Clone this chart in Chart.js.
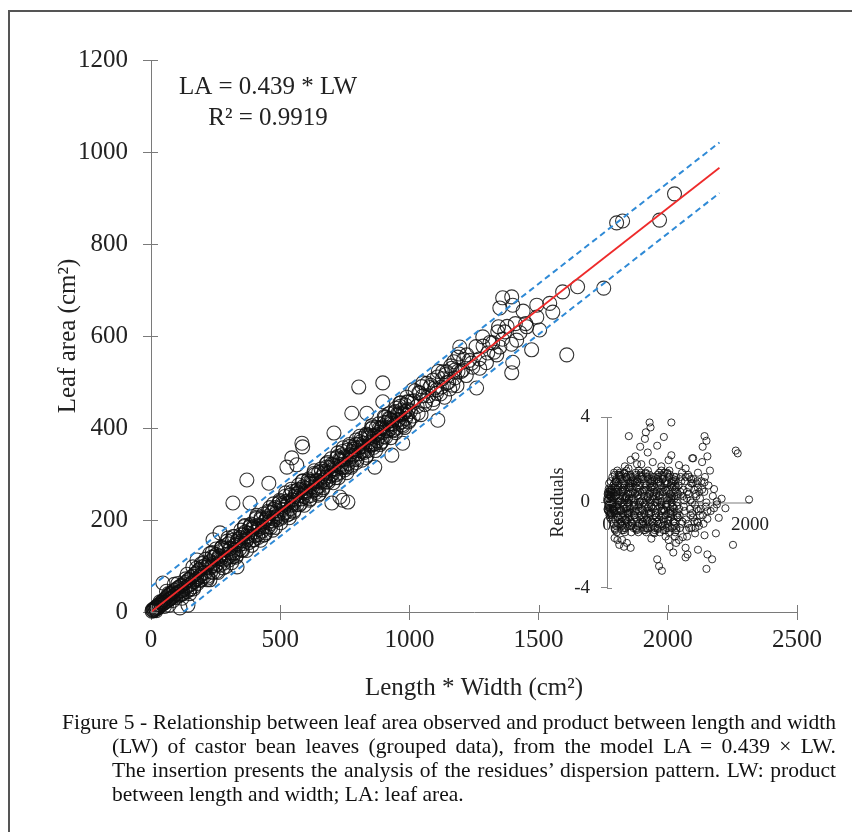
<!DOCTYPE html>
<html>
<head>
<meta charset="utf-8">
<script src="https://cdn.jsdelivr.net/npm/chart.js@4.4.1/dist/chart.umd.min.js"></script>
<style>
  html, body { margin: 0; padding: 0; background: #fff; overflow: hidden; }
  body { width: 852px; height: 832px; position: relative; font-family: "Liberation Serif", "Times New Roman", serif; }
  #frame { position: absolute; left: 8px; top: 10px; width: 900px; height: 900px; border-left: 2px solid #555; border-top: 2px solid #555; }
  #main { position: absolute; left: 0; top: 0; }
  #inset { position: absolute; left: 540px; top: 395px; }
  #caption { position: absolute; left: 62px; top: 710px; width: 774px; font-size: 21.5px; line-height: 24px; color: #111; }
  #caption div { white-space: nowrap; text-align: justify; text-align-last: justify; }
  #caption div.indent { padding-left: 50px; }
  #caption div.last { text-align-last: left; }
</style>
</head>
<body>
<div id="frame"></div>
<canvas id="main" width="852" height="832"></canvas>
<canvas id="inset" width="240" height="215"></canvas>
<div id="caption">
  <div>Figure 5 - Relationship between leaf area observed and product between length and width</div>
  <div class="indent">(LW) of castor bean leaves (grouped data), from the model LA = 0.439 × LW.</div>
  <div class="indent">The insertion presents the analysis of the residues’ dispersion pattern. LW: product</div>
  <div class="indent last">between length and width; LA: leaf area.</div>
</div>
<script>
// model
const fitSlope = 0.439;
const bandHalfWidth = 55;
const lineEndLW = 2200;

const mainXTicks = [0, 500, 1000, 1500, 2000, 2500];
const mainYTicks = [0, 200, 400, 600, 800, 1000, 1200];
const insetXTicks = [0, 2000];
const insetYTicks = [-4, 0, 4];

// [LW, LA] observed leaves
const smallLeaves = [
  [4,2],[6,5],[9,3],[11,7],[13,4],[16,9],[18,6],[21,11],[24,8],[26,14],[29,10],[31,16],[34,13],[37,19],
  [39,15],[42,22],[45,17],[47,25],[50,20],[53,27],[55,21],[58,30],[61,24],[63,33],[66,26],[69,36],[72,28],
  [74,39],[77,30],[80,42],[83,32],[85,44],[88,35],[91,47],[94,38],[96,31],[99,50],[102,40],[105,53],
  [108,43],[110,36],[113,56],[116,46],[119,58],[122,47],[124,40],[127,61],[130,50],[133,64],[136,54],
  [138,45],[141,68],[144,57],[147,71],[150,59],[152,50],[155,75],[158,62],[161,78],[164,66],[166,55],
  [169,82],[172,70],[175,85],[178,72],[180,62],[183,90],[186,76],[189,93],[192,80],[194,70],[197,98],
  [200,84],[60,45],[90,60],[120,30],[150,40],[70,15],[140,82],[165,50],[195,105],
  [20,3],[35,22],[52,12],[68,40],[86,25],[104,62],[118,38],[134,72],[148,48],[176,95],[188,68]
];
const mediumLeavesA = [
  [203,107],[209,86],[214,97],[219,74],[226,109],[231,87],[237,129],[242,106],[248,100],[253,125],
  [259,86],[264,122],[270,116],[276,142],[281,106],[287,134],[292,117],[298,161],[303,113],[309,138],
  [315,156],[320,134],[326,146],[331,123],[337,158],[343,137],[348,178],[354,155],[359,149],[365,174],
  [370,134],[376,171],[382,165],[387,191],[393,156],[398,183],[404,166],[410,210],[415,162],[421,187],
  [426,205],[432,184],[437,195],[443,172],[449,207],[454,185],[460,227],[465,204],[471,198],[476,223],
  [482,184],[488,220],[493,213],[499,240],[504,204],[510,232],[515,215],[521,259],[527,211],[532,236],
  [538,254],[543,232],[549,244],[554,221],[560,256],[566,234],[571,276],[577,253],[582,246],[588,272],
  [593,232],[599,269],[605,263],[610,289],[616,253],[621,281],[627,264],[632,307],[638,260],[644,285],
  [649,303],[655,282],[660,293],[666,270],[671,305],[677,283],[683,325],[688,302],[694,296],[699,321],
  [705,281],[710,318],[716,311],[722,338],[727,302],[733,330],[738,313],[744,357],[749,309],[755,333],
  [761,352],[766,330],[772,342],[777,319],[783,354],[788,332],[794,374],[800,351],[805,344],[811,370],
  [816,330],[822,367],[827,360],[833,387],[839,351],[844,379],[850,362],[855,405],[861,358],[866,382],
  [872,401],[878,379],[883,391],[889,368],[894,402],[900,381],[906,423],[911,400],[917,394],[922,419],
  [928,379],[933,416],[939,409],[945,436],[950,400],[956,428],[961,411],[967,455],[972,407],[978,431],
  [984,450],[989,428],[995,440],[1000,417]
];
const mediumLeavesB = [
  [206,78],[212,115],[217,70],[223,105],[228,96],[234,119],[240,86],[245,119],[251,137],[256,104],
  [262,116],[267,102],[273,139],[279,96],[284,137],[290,125],[295,154],[301,119],[306,139],[312,107],
  [318,128],[323,164],[329,119],[334,154],[340,145],[346,168],[351,135],[357,168],[362,186],[368,154],
  [373,165],[379,151],[385,188],[390,145],[396,186],[401,174],[407,203],[413,168],[418,189],[424,156],
  [429,176],[435,213],[440,168],[446,203],[452,194],[457,217],[463,184],[468,216],[474,235],[479,202],
  [485,214],[491,201],[496,237],[502,194],[507,235],[513,223],[518,251],[524,217],[530,238],[535,205],
  [541,225],[546,262],[552,217],[557,252],[563,243],[569,266],[574,233],[580,266],[585,284],[591,251],
  [596,263],[602,249],[608,286],[613,243],[619,284],[624,272],[630,301],[636,266],[641,286],[647,254],
  [652,274],[658,311],[663,266],[669,301],[675,292],[680,315],[686,282],[691,314],[697,333],[702,300],
  [708,312],[714,298],[719,335],[725,292],[730,332],[736,321],[741,349],[747,315],[753,336],[758,303],
  [764,323],[769,360],[775,315],[780,349],[786,341],[792,364],[797,331],[803,364],[808,382],[814,349],
  [819,361],[825,347],[831,384],[836,341],[842,382],[847,370],[853,398],[858,364],[864,384],[869,351],
  [875,372],[881,409],[886,364],[892,399],[897,390],[903,412],[908,380],[914,412],[920,431],[925,398],
  [931,410],[936,396],[942,433],[947,390],[953,430],[958,419],[964,447],[970,413],[975,433],[981,401],
  [986,421],[992,457],[997,413]
];
const mediumLeavesC = [
  [210,101],[219,78],[228,127],[237,101],[246,122],[255,88],[264,120],[273,140],[282,113],[291,99],
  [300,148],[309,129],[318,164],[327,129],[336,149],[345,162],[354,134],[363,188],[372,158],[381,184],
  [390,180],[399,157],[408,206],[417,180],[426,201],[435,167],[444,199],[453,219],[462,192],[471,178],
  [480,227],[489,208],[498,243],[507,208],[516,228],[525,241],[534,213],[543,267],[552,237],[561,263],
  [570,259],[579,236],[588,285],[597,259],[606,280],[615,246],[624,278],[633,298],[642,271],[651,257],
  [660,306],[669,287],[678,322],[687,287],[696,307],[705,320],[714,292],[723,346],[732,316],[741,342],
  [750,338],[759,315],[768,364],[777,338],[786,359],[795,325],[804,357],[813,377],[822,350],[831,336],
  [840,385],[849,366],[858,401],[867,366],[876,386],[885,400],[894,371],[903,425],[912,395],[921,421],
  [930,417],[939,394],[948,443],[957,417],[966,438],[975,404],[984,436],[993,456]
];
const largeLeaves = [
  [1008,458],[1015,426],[1022,481],[1030,447],[1037,477],[1045,429],[1052,470],[1060,451],[1068,497],
  [1075,470],[1083,493],[1090,454],[1098,487],[1105,475],[1112,523],[1120,474],[1128,507],[1136,467],
  [1144,522],[1152,500],[1160,535],[1168,493],[1176,526],[1184,492],[1192,561],[1200,523],[1210,549],
  [1220,514],[1232,547],[1245,532],[1258,577],[1270,550],[1285,578],[1298,542],[1312,586],[1328,565],
  [1345,620],[1360,593],[1378,621],[1395,582],[1410,627],[1428,607],[1440,654],[1450,627],
  [1004,436],[1019,459],[1034,432],[1048,490],[1064,459],[1079,488],[1094,462],[1109,511],[1124,489],
  [1140,516],[1156,485],[1172,544],[1188,523]
];
const scatteredLeaves = [
  [2026,909],[1802,846],[1825,850],[1968,852],[1651,707],[1593,696],[1752,704],[1543,671],[1493,667],
  [1555,652],[1493,641],[1454,620],[1504,613],[1609,559],[1473,570],[1361,683],[1396,685],[1350,661],
  [1400,667],[1342,609],[1369,609],[1284,598],[1415,591],[1322,585],[1350,576],[1303,563],[1338,559],
  [1400,543],[1396,520],[1272,530],[1260,487],[1195,576],[1187,554],[1222,559],[1241,541],[1164,530],
  [1206,526],[1129,522],[1176,509],[1145,498],[897,498],[1091,504],[1106,483],[1052,498],[1040,476],
  [1013,483],[990,467],[963,454],[1110,417],[804,489],[777,432],[835,432],[897,457],[708,389],[584,367],
  [587,359],[545,335],[526,315],[564,320],[371,287],[456,280],[317,237],[383,237],[700,237],[742,243],
  [762,239],[731,250],[932,341],[866,315],[974,367],[267,172],[240,157],[178,113],[162,98],[228,70],
  [112,9],[143,15],[46,63],[85,41],[317,120],[333,98]
];

// [LW, studentized residual] for the insert
const residualsDense = [
  [10,0.4],[10,-0.35],[10,0.1],[25,-0.15],[25,0.2],[25,0.65],[40,0.6],[40,-0.7],[40,-0.25],
  [55,-0.5],[55,0.45],[55,0.3],[70,0.1],[70,-0.1],[70,-0.6],[85,-0.3],[85,0.5],[85,-0.05],
  [100,1.4],[100,-0.4],[100,0.9],[115,-1.3],[115,0.7],[115,-0.8],[130,0.5],[130,-1.1],[130,1.1],
  [145,-0.1],[145,1.5],[145,-0.4],[160,0.9],[160,0.0],[160,0.5],[175,-0.8],[175,-0.6],[175,1.4],
  [190,0.1],[190,1.2],[190,-1.0],[205,1.1],[205,-0.9],[205,0.0],[220,-0.5],[220,0.3],[220,-0.7],
  [235,-1.2],[235,-1.3],[235,0.7],[250,0.6],[250,0.8],[250,-1.4],[265,0.3],[265,-0.3],[265,1.2],
  [280,-0.9],[280,1.1],[280,-0.2],[295,1.3],[295,-1.0],[295,0.4],[310,0.8],[310,-0.7],[310,0.2],
  [325,-0.3],[325,0.4],[325,1.3],[340,1.2],[340,-1.4],[340,-0.5],[355,-1.0],[355,0.9],[355,0.6],
  [370,0.2],[370,-0.2],[370,-1.2],[385,-0.6],[385,1.0],[385,-0.1],[400,1.4],[400,-0.4],[400,0.9],
  [415,-1.3],[415,0.7],[415,-0.8],[430,0.5],[430,-1.1],[430,1.1],[445,-0.1],[445,1.5],[445,-0.4],
  [460,0.9],[460,0.0],[460,0.5],[475,-0.8],[475,-0.6],[475,1.4],[490,0.1],[490,1.2],[490,-1.0],
  [505,1.1],[505,-0.9],[505,0.0],[520,-0.5],[520,0.3],[520,-0.7],[535,-1.2],[535,-1.3],[535,0.7],
  [550,0.6],[550,0.8],[550,-1.4],[565,0.3],[565,-0.3],[565,1.2],[580,-0.9],[580,1.1],[580,-0.2],
  [595,1.3],[595,-1.0],[595,0.4],[610,0.7],[610,-0.5],[610,1.0],[625,-0.9],[625,1.1],[625,-0.2],
  [640,0.3],[640,-0.3],[640,1.2],[655,0.6],[655,0.8],[655,-1.4],[670,-1.2],[670,-1.3],[670,0.7],
  [685,-0.5],[685,0.3],[685,-0.7],[700,1.1],[700,-0.9],[700,0.0],[715,0.1],[715,1.2],[715,-1.0],
  [730,-0.8],[730,-0.6],[730,1.4],[745,0.9],[745,0.0],[745,0.5],[760,-0.1],[760,1.5],[760,-0.4],
  [775,0.5],[775,-1.1],[775,1.1],[790,-1.3],[790,0.7],[790,-0.8],[805,1.4],[805,-0.4],[805,0.9],
  [820,-0.6],[820,1.0],[820,-0.1],[835,0.2],[835,-0.2],[835,-1.2],[850,-1.0],[850,0.9],[850,0.6],
  [865,1.2],[865,-1.4],[865,-0.5],[880,-0.3],[880,0.4],[880,1.3],[895,0.8],[895,-0.7],[895,0.2],
  [910,1.0],[910,-1.2],[910,0.3],[925,-0.9],[925,1.1],[925,-0.2],[940,0.3],[940,-0.3],[940,1.2],
  [955,0.6],[955,0.8],[955,-1.4],[970,-1.2],[970,-1.3],[970,0.7],[985,-0.5],[985,0.3],[985,-0.7]
];
const residualsDenseB = [
  [17,-0.1],[17,0.35],[32,0.5],[32,-0.45],[47,-0.55],[47,0.1],[62,0.25],[62,0.6],[77,0.0],[77,-0.3],
  [92,-0.35],[92,0.2],[107,1.3],[107,-1.2],[122,0.3],[122,1.0],[137,-1.4],[137,-0.2],[152,0.8],[152,-1.0],
  [167,-0.4],[167,1.3],[182,1.1],[182,-0.3],[197,-0.9],[197,0.5],[212,0.6],[212,-1.3],[227,-0.1],[227,0.9],
  [242,1.4],[242,0.1],[257,-1.2],[257,-0.8],[272,0.2],[272,1.5],[287,-0.5],[287,-0.4],[302,0.9],[302,0.0],
  [317,-0.2],[317,0.7],[332,1.0],[332,-0.9],[347,-1.1],[347,0.2],[362,0.5],[362,1.2],[377,0.0],[377,-0.6],
  [392,-0.7],[392,0.4],[407,1.3],[407,-1.2],[422,0.3],[422,1.0],[437,-1.4],[437,-0.2],[452,0.8],[452,-1.0],
  [467,-0.4],[467,1.3],[482,1.1],[482,-0.3],[497,-0.9],[497,0.5],[512,0.6],[512,-1.3],[527,-0.1],[527,0.9],
  [542,1.4],[542,0.1],[557,-1.2],[557,-0.8],[572,0.2],[572,1.5],[587,-0.5],[587,-0.4],[602,0.9],[602,0.0],
  [617,-0.2],[617,0.7],[632,1.0],[632,-0.9],[647,-1.1],[647,0.2],[662,0.5],[662,1.2],[677,0.0],[677,-0.6],
  [692,-0.7],[692,0.4],[707,1.3],[707,-1.2],[722,0.3],[722,1.0],[737,-1.4],[737,-0.2],[752,0.8],[752,-1.0],
  [767,-0.4],[767,1.3],[782,1.1],[782,-0.3],[797,-0.9],[797,0.5],[812,0.6],[812,-1.3],[827,-0.1],[827,0.9],
  [842,1.4],[842,0.1],[857,-1.2],[857,-0.8],[872,0.2],[872,1.5],[887,-0.5],[887,-0.4],[902,0.9],[902,0.0],
  [917,-0.2],[917,0.7],[932,1.0],[932,-0.9],[947,-1.1],[947,0.2],[962,0.5],[962,1.2],[977,0.0],[977,-0.6],
  [992,-0.7],[992,0.4]
];
const residualsDenseC = [
  [3,0.08],[18,-0.22],[33,0.38],[48,-0.48],[63,0.52],[78,-0.08],[93,0.45],[108,-1.25],[123,0.95],[138,0.35],
  [153,-0.65],[168,0.05],[183,1.25],[198,-0.35],[213,-1.05],[228,0.55],[243,1.35],[258,-0.85],[273,0.25],
  [288,-0.55],[303,0.15],[318,-0.45],[333,0.75],[348,-0.95],[363,1.05],[378,-0.15],[393,0.45],[408,-1.25],
  [423,0.95],[438,0.35],[453,-0.65],[468,0.05],[483,1.25],[498,-0.35],[513,-1.05],[528,0.55],[543,1.35],
  [558,-0.85],[573,0.25],[588,-0.55],[603,0.15],[618,-0.45],[633,0.75],[648,-0.95],[663,1.05],[678,-0.15],
  [693,0.45],[708,-1.25],[723,0.95],[738,0.35],[753,-0.65],[768,0.05],[783,1.25],[798,-0.35],[813,-1.05],
  [828,0.55],[843,1.35],[858,-0.85],[873,0.25],[888,-0.55],[903,0.15],[918,-0.45],[933,0.75],[948,-0.95],
  [963,1.05],[978,-0.15]
];
const residualsExtra = [
  [5,0.2],[8,-0.3],[15,0.5],[18,-0.4],[30,0.9],[35,-0.6],[45,0.3],[50,1.0],[60,-0.8],[65,0.6],
  [75,1.2],[80,-0.2],[90,0.8],[95,-1.0],[105,0.3],[110,-0.5],[120,1.0],[125,-0.2],[140,0.6],
  [150,-0.7],[165,0.2],[170,1.3],[185,-0.4],[195,0.7],[210,-1.1],[215,0.5],[230,1.0],[240,-0.3],
  [255,0.2],[260,-0.8],[275,1.2],[285,0.0],[300,-0.5],[305,0.7],[320,-1.1],[330,0.9],
  [1000,0.8],[1015,-0.6],[1030,1.2],[1045,-1.0],[1060,0.3],[1075,-0.2],[1090,1.0],[1105,-0.8],
  [1120,0.5],[1135,1.3],[1150,-1.2],[1165,0.1],[1180,0.9],[1195,-0.5],[1210,1.1],[1225,-0.9],
  [1240,0.4],[1255,-0.3],[1270,0.7],[1285,-1.1],[1300,0.2],[1320,1.0],[1340,-0.6],[1360,0.5],
  [1380,-0.2],[1420,0.8],[1450,-0.4],[1480,0.3],
  [1010,-0.3],[1025,0.5],[1040,1.0],[1055,-0.9],[1070,0.6],[1085,-0.4],[1100,1.2],[1115,0.2],
  [1130,-1.0],[1145,0.7],[1160,-0.3],[1175,1.1],[1190,0.0],[1205,-0.7],[1220,0.6],[1235,-1.2],
  [1250,0.3],[1265,1.0],[1280,-0.4],[1020,-1.2],[1050,1.4],[1080,0.1],[1110,-1.3],[1140,0.4],
  [1170,-0.6],[1200,0.9],[1230,-0.1],[1260,-0.9],[1290,0.5],[1310,-0.3],[1330,0.6],[1350,-1.0],
  [1370,1.2],[1390,0.0]
];
const residualsSpread = [
  [596,3.76],[609,3.53],[900,3.76],[543,3.30],[530,2.99],[305,3.12],[795,3.08],[464,2.62],[702,2.67],
  [570,2.35],[900,2.22],[861,1.99],[1364,3.12],[1391,2.90],[1338,2.62],[1404,2.17],[1192,2.08],
  [1205,2.08],[397,2.17],[1801,2.44],[1828,2.31],[1007,1.76],[1272,1.40],[1364,0.95],[1497,0.63],
  [1603,0.18],[1536,0.05],[1656,-0.27],[1987,0.14],[1404,-0.41],[1497,-0.27],[1536,-0.09],[1563,-0.72],
  [1404,-0.77],[1272,-0.95],[1523,-1.45],[1364,-1.54],[1232,-1.45],[1762,-1.99],[1099,-2.13],
  [1126,-2.44],[1099,-2.58],[1272,-2.22],[1404,-2.44],[1470,-2.67],[1391,-3.12],[702,-2.67],[728,-2.99],
  [768,-3.21],[927,-2.35],[1007,-1.76],[874,-2.08],[106,-1.67],[172,-1.99],[238,-2.08],[331,-2.13],
  [146,-1.76],[212,-1.76],[278,-1.90],[861,-1.76],[967,-1.90],[662,-1.45],[570,-1.22],[1060,-1.63],
  [250,1.7],[480,1.8],[640,1.9],[760,1.7],[1100,1.6],[1150,1.2],[1250,0.9],[1300,-0.6],[1330,1.9],
  [1440,1.5],[1180,-1.2],[1120,-1.6],[950,-1.6],[820,-1.6],[620,-1.7],[300,1.6],[330,2.0],[420,1.8]
];

const serif = '"Liberation Serif", "Times New Roman", serif';
const axisColor = '#7a7a7a';
const textColor = '#222';

const toXY = arr => arr.map(([x, y]) => ({ x, y }));
const fixedTicks = values => scale => { scale.ticks = values.map(v => ({ value: v })); };
const plainNumber = v => String(v);

// little tick marks on the inner side of the axes, so the ticks cross them
const innerTicks = {
  id: 'innerTicks',
  afterDraw(chart, args, opts) {
    const { ctx, chartArea, scales } = chart;
    ctx.save();
    ctx.strokeStyle = opts.color;
    ctx.lineWidth = 1;
    ctx.beginPath();
    if (opts.x) {
      scales.x.ticks.forEach((t, i) => {
        const px = Math.round(scales.x.getPixelForTick(i)) + 0.5;
        ctx.moveTo(px, chartArea.bottom);
        ctx.lineTo(px, chartArea.bottom - opts.length);
      });
    }
    if (opts.y) {
      scales.y.ticks.forEach((t, i) => {
        const py = Math.round(scales.y.getPixelForTick(i)) + 0.5;
        ctx.moveTo(chartArea.left, py);
        ctx.lineTo(chartArea.left + opts.length, py);
      });
    }
    ctx.stroke();
    ctx.restore();
  }
};

const equationText = {
  id: 'equationText',
  afterDraw(chart) {
    const { ctx, chartArea } = chart;
    ctx.save();
    ctx.font = '25px ' + serif;
    ctx.fillStyle = textColor;
    ctx.textAlign = 'center';
    ctx.textBaseline = 'middle';
    ctx.fillText('LA = 0.439 * LW', chartArea.left + 117, chartArea.top + 27);
    ctx.fillText('R² = 0.9919', chartArea.left + 117, chartArea.top + 58);
    ctx.restore();
  }
};

const allLeaves = [].concat(smallLeaves, mediumLeavesA, mediumLeavesB, mediumLeavesC, largeLeaves, scatteredLeaves);

new Chart(document.getElementById('main'), {
  type: 'scatter',
  data: {
    datasets: [
      {
        label: 'fit',
        data: [{ x: 0, y: 0 }, { x: lineEndLW, y: fitSlope * lineEndLW }],
        showLine: true,
        borderColor: '#ee2a2a',
        borderWidth: 1.8,
        pointRadius: 0,
        order: 0
      },
      {
        label: 'upper',
        data: [{ x: 0, y: bandHalfWidth }, { x: lineEndLW, y: fitSlope * lineEndLW + bandHalfWidth }],
        showLine: true,
        borderColor: '#2f8ad6',
        borderWidth: 2,
        borderDash: [6, 4],
        pointRadius: 0,
        order: 0
      },
      {
        label: 'lower',
        data: [{ x: bandHalfWidth / fitSlope, y: 0 }, { x: lineEndLW, y: fitSlope * lineEndLW - bandHalfWidth }],
        showLine: true,
        borderColor: '#2f8ad6',
        borderWidth: 2,
        borderDash: [6, 4],
        pointRadius: 0,
        order: 0
      },
      {
        label: 'observed',
        data: toXY(allLeaves),
        pointRadius: 7,
        pointBorderWidth: 1.1,
        backgroundColor: 'rgba(0,0,0,0)',
        borderColor: 'rgba(15,15,15,0.85)',
        clip: false,
        order: 1
      }
    ]
  },
  options: {
    responsive: false,
    animation: false,
    events: [],
    layout: { padding: { left: 0, top: 60, right: 55, bottom: 0 } },
    plugins: {
      legend: { display: false },
      tooltip: { enabled: false },
      innerTicks: { x: true, y: true, length: 7, color: axisColor }
    },
    scales: {
      x: {
        type: 'linear',
        min: 0,
        max: 2500,
        afterBuildTicks: fixedTicks(mainXTicks),
        afterFit: s => { s.height = 220; },
        grid: { drawOnChartArea: false, tickLength: 8, color: axisColor },
        border: { color: axisColor, width: 1 },
        ticks: { padding: 5, color: textColor, font: { family: serif, size: 25 }, callback: plainNumber },
        title: {
          display: true,
          text: 'Length * Width (cm²)',
          color: textColor,
          font: { family: serif, size: 25 },
          padding: { top: 0, bottom: 129 }
        }
      },
      y: {
        type: 'linear',
        min: 0,
        max: 1200,
        afterBuildTicks: fixedTicks(mainYTicks),
        afterFit: s => { s.width = 151; },
        grid: { drawOnChartArea: false, tickLength: 8, color: axisColor },
        border: { color: axisColor, width: 1 },
        ticks: { padding: 15, color: textColor, font: { family: serif, size: 25 }, callback: plainNumber },
        title: {
          display: true,
          text: 'Leaf area (cm²)',
          color: textColor,
          font: { family: serif, size: 25 },
          padding: { top: 53, bottom: 0 }
        }
      }
    }
  },
  plugins: [innerTicks, equationText]
});

const allResiduals = [].concat(residualsDense, residualsDenseB, residualsDenseC, residualsExtra, residualsSpread);

new Chart(document.getElementById('inset'), {
  type: 'scatter',
  data: {
    datasets: [{
      label: 'residuals',
      data: toXY(allResiduals),
      pointRadius: 3.6,
      pointBorderWidth: 1,
      backgroundColor: 'rgba(0,0,0,0)',
      borderColor: 'rgba(15,15,15,0.85)',
      clip: false
    }]
  },
  options: {
    responsive: false,
    animation: false,
    events: [],
    layout: { padding: { left: 0, top: 17.6, right: 22, bottom: 20.6 } },
    plugins: {
      legend: { display: false },
      tooltip: { enabled: false },
      innerTicks: { x: false, y: true, length: 5, color: '#888' }
    },
    scales: {
      x: {
        type: 'linear',
        min: 0,
        max: 2000,
        position: { y: 0 },
        afterBuildTicks: fixedTicks(insetXTicks),
        grid: { display: false, drawTicks: false },
        border: { color: '#bdbdbd', width: 2 },
        ticks: { padding: 11, color: textColor, font: { family: serif, size: 19 }, callback: plainNumber }
      },
      y: {
        type: 'linear',
        min: -4,
        max: 4,
        position: 'left',
        afterBuildTicks: fixedTicks(insetYTicks),
        afterFit: s => { s.width = 67; },
        grid: { drawOnChartArea: false, tickLength: 6, color: '#888' },
        border: { color: '#888', width: 1 },
        ticks: { padding: 11, color: textColor, font: { family: serif, size: 19 }, callback: plainNumber },
        title: {
          display: true,
          text: 'Residuals',
          color: textColor,
          font: { family: serif, size: 18 },
          padding: { top: 7, bottom: 0 }
        }
      }
    }
  },
  plugins: [innerTicks]
});
</script>
</body>
</html>
